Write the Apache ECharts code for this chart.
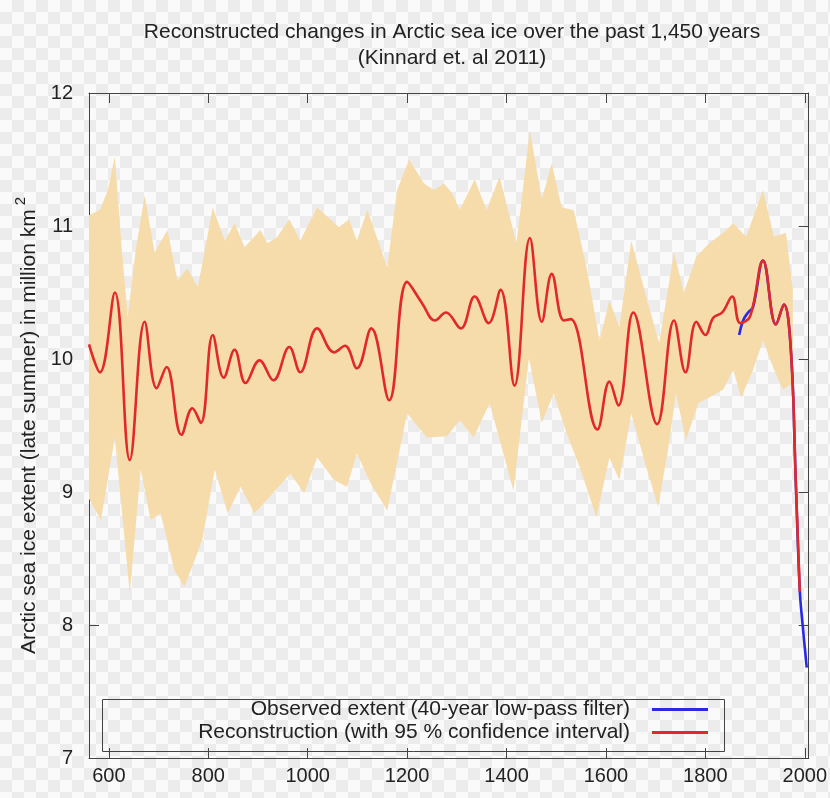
<!DOCTYPE html>
<html><head><meta charset="utf-8">
<script src="https://cdn.jsdelivr.net/npm/echarts@6/dist/echarts.min.js"></script>
<style>
html,body{margin:0;padding:0;}
body{width:830px;height:798px;background-color:#fafafa;background-image:conic-gradient(#ececec 25%,#fafafa 0 50%,#ececec 0 75%,#fafafa 0);background-size:24px 24px;}
#c{width:830px;height:798px;}
</style></head>
<body><div id="c"></div>
<script>
const xTicks = [600, 800, 1000, 1200, 1400, 1600, 1800, 2000];
const yTicks = [7, 8, 9, 10, 11, 12];

const reconYears  = [560, 582, 612, 642, 672, 696, 716, 746, 768, 785, 809, 831, 853, 875, 903, 931, 963, 985, 1019, 1053, 1075, 1099, 1128, 1164, 1200, 1230, 1256, 1278, 1308, 1336, 1364, 1388, 1416, 1447, 1471, 1491, 1515, 1529, 1583, 1607, 1625, 1655, 1703, 1737, 1760, 1782, 1800, 1816, 1834, 1854, 1870, 1890, 1916, 1942, 1958, 1972, 1982, 1990];
const reconValues = [10.11, 9.90, 10.50, 9.24, 10.28, 9.78, 9.94, 9.43, 9.63, 9.52, 10.18, 9.86, 10.07, 9.82, 9.99, 9.84, 10.09, 9.90, 10.23, 10.05, 10.10, 9.93, 10.23, 9.69, 10.58, 10.42, 10.29, 10.35, 10.23, 10.47, 10.27, 10.52, 9.80, 10.91, 10.28, 10.64, 10.29, 10.30, 9.47, 9.83, 9.65, 10.35, 9.51, 10.29, 9.90, 10.28, 10.18, 10.31, 10.35, 10.47, 10.27, 10.32, 10.74, 10.26, 10.41, 10.07, 9.07, 8.25];

const obsYears  = [1868, 1876, 1886, 1896, 1916, 1942, 1958, 1972, 1982, 1990, 1996, 2004];
const obsValues = [10.18, 10.29, 10.35, 10.39, 10.74, 10.26, 10.41, 10.07, 9.07, 8.26, 7.99, 7.68];

const bandUpperYears  = [560, 582, 598, 612, 626, 638, 654, 672, 692, 718, 738, 758, 779, 809, 833, 853, 873, 905, 919, 939, 963, 985, 1019, 1063, 1083, 1099, 1120, 1160, 1180, 1204, 1234, 1254, 1274, 1290, 1306, 1336, 1360, 1386, 1420, 1447, 1471, 1491, 1511, 1535, 1561, 1587, 1607, 1627, 1651, 1681, 1707, 1737, 1757, 1782, 1808, 1836, 1856, 1882, 1916, 1938, 1962, 1976];
const bandUpperValues = [11.08, 11.12, 11.27, 11.52, 10.82, 10.32, 10.82, 11.23, 10.80, 10.97, 10.59, 10.68, 10.54, 11.14, 10.89, 11.02, 10.84, 10.97, 10.87, 10.92, 11.05, 10.89, 11.14, 10.99, 11.05, 10.89, 11.12, 10.69, 11.27, 11.50, 11.32, 11.27, 11.32, 11.25, 11.12, 11.35, 11.12, 11.37, 10.87, 11.72, 11.20, 11.47, 11.14, 11.12, 10.69, 10.14, 10.44, 10.24, 10.89, 10.47, 10.12, 10.80, 10.50, 10.77, 10.87, 10.95, 11.02, 10.92, 11.27, 10.92, 10.95, 10.52];

const bandLowerYears  = [560, 584, 612, 642, 664, 684, 704, 732, 752, 773, 789, 813, 839, 865, 893, 925, 965, 993, 1019, 1053, 1079, 1099, 1126, 1160, 1200, 1240, 1280, 1306, 1334, 1366, 1414, 1445, 1471, 1495, 1521, 1547, 1581, 1607, 1627, 1651, 1681, 1705, 1725, 1741, 1761, 1786, 1808, 1836, 1856, 1872, 1896, 1916, 1936, 1956, 1976];
const bandLowerValues = [8.95, 8.79, 9.41, 8.24, 9.17, 8.79, 8.84, 8.41, 8.29, 8.49, 8.66, 9.17, 8.84, 9.04, 8.84, 8.97, 9.14, 8.99, 9.26, 9.09, 9.04, 9.29, 9.07, 8.86, 9.59, 9.41, 9.42, 9.54, 9.41, 9.67, 9.01, 10.01, 9.52, 9.74, 9.44, 9.19, 8.81, 9.26, 9.09, 9.59, 9.19, 8.89, 9.32, 9.74, 9.39, 9.67, 9.71, 9.77, 9.92, 9.71, 9.92, 10.14, 9.94, 9.77, 9.82];

const obsName = 'Observed extent (40-year low-pass filter)';
const reconName = 'Reconstruction (with 95 % confidence interval)';

const axisColor = '#444';
const zip = (a, b) => a.map((v, i) => [v, b[i]]);

const chart = echarts.init(document.getElementById('c'), null, {renderer: 'canvas'});

const xBase = {
  type: 'value', min: 560, max: 2008,
  axisLine: {show: true, onZero: false, lineStyle: {color: axisColor, width: 1}},
  axisTick: {show: true, inside: true, length: 10, customValues: xTicks, lineStyle: {color: axisColor}},
  splitLine: {show: false}
};
const yBase = {
  type: 'value', min: 7, max: 12, interval: 1,
  axisLine: {show: true, onZero: false, lineStyle: {color: axisColor, width: 1}},
  axisTick: {show: true, inside: true, length: 10, lineStyle: {color: axisColor}},
  splitLine: {show: false}
};

chart.setOption({
  backgroundColor: 'transparent',
  animation: false,
  title: {
    text: 'Reconstructed changes in Arctic sea ice over the past 1,450 years',
    subtext: '(Kinnard et. al 2011)',
    left: 447, top: 17, itemGap: 5, textAlign: 'center',
    textStyle: {fontFamily: 'Liberation Sans', fontSize: 21, fontWeight: 'normal', color: '#222'},
    subtextStyle: {fontFamily: 'Liberation Sans', fontSize: 21, color: '#222'}
  },
  grid: {left: 89, right: 19, top: 93, bottom: 40, containLabel: false},
  xAxis: [
    Object.assign({}, xBase, {position: 'bottom',
      axisLabel: {show: true, customValues: xTicks, formatter: v => String(v),
        fontFamily: 'Liberation Sans', fontSize: 20, color: '#222', margin: 8}}),
    Object.assign({}, xBase, {position: 'top', axisLabel: {show: false}})
  ],
  yAxis: [
    Object.assign({}, yBase, {position: 'left',
      axisLabel: {show: true, fontFamily: 'Liberation Sans', fontSize: 20, color: '#222', margin: 16},
      name: '{a|Arctic sea ice extent (late summer) in million km}{b|2}',
      nameLocation: 'middle', nameGap: 44, nameRotate: 90,
      nameTextStyle: {rich: {
        a: {fontFamily: 'Liberation Sans', fontSize: 21, color: '#222'},
        b: {fontFamily: 'Liberation Sans', fontSize: 15, color: '#222', padding: [0, 0, 16, 4]}
      }}}),
    Object.assign({}, yBase, {position: 'right', axisLabel: {show: false}})
  ],
  legend: [
    {data: [obsName], orient: 'vertical', align: 'right', right: 122, top: 699, padding: 0,
     itemWidth: 56, itemHeight: 3, icon: 'rect',
     textStyle: {fontFamily: 'Liberation Sans', fontSize: 21, color: '#222', padding: [0, 17, 0, 0]}},
    {data: [reconName], orient: 'vertical', align: 'right', right: 122, top: 722, padding: 0,
     itemWidth: 56, itemHeight: 3, icon: 'rect',
     textStyle: {fontFamily: 'Liberation Sans', fontSize: 21, color: '#222', padding: [0, 17, 0, 0]}}
  ],
  graphic: [{
    type: 'rect', left: 100, top: 697, z: 50,
    shape: {width: 622, height: 52},
    style: {fill: 'none', stroke: axisColor, lineWidth: 1}
  }],
  series: [
    {
      type: 'custom', name: 'band', silent: true, z: 1,
      data: [[560, 10]],
      renderItem: function (params, api) {
        const pts = [];
        for (let i = 0; i < bandUpperYears.length; i++) pts.push(api.coord([bandUpperYears[i], bandUpperValues[i]]));
        for (let i = bandLowerYears.length - 1; i >= 0; i--) pts.push(api.coord([bandLowerYears[i], bandLowerValues[i]]));
        return {type: 'polygon', shape: {points: pts}, style: {fill: '#f6dbab', stroke: 'none'}};
      }
    },
    {
      type: 'line', name: obsName, data: zip(obsYears, obsValues), z: 3,
      smooth: 0.4, showSymbol: false, symbol: 'none',
      itemStyle: {color: '#2a2ae6'}, lineStyle: {color: '#2a2ae6', width: 2.6}
    },
    {
      type: 'line', name: reconName, data: zip(reconYears, reconValues), z: 4,
      smooth: 0.4, showSymbol: false, symbol: 'none',
      itemStyle: {color: '#e02a2a'}, lineStyle: {color: '#e02a2a', width: 2.6}
    }
  ]
});
</script>
</body></html>
